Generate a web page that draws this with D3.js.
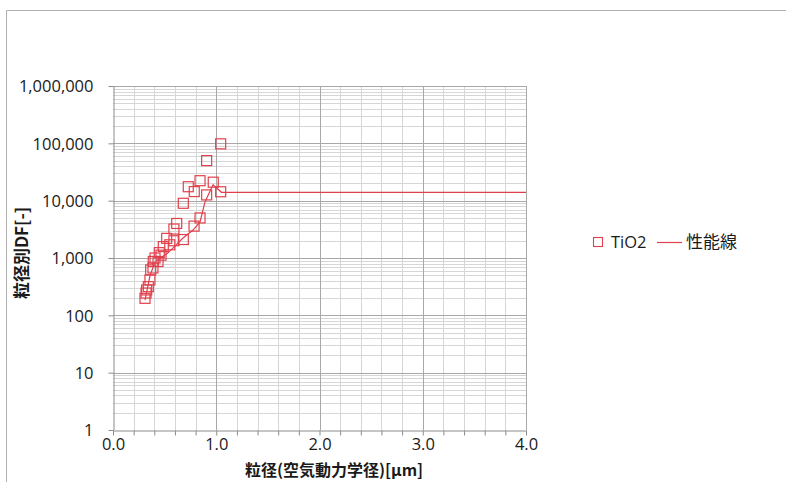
<!DOCTYPE html>
<html><head><meta charset="utf-8">
<script src="https://cdn.jsdelivr.net/npm/d3@7"></script>
<style>
html,body{margin:0;padding:0;background:#fff;}
svg{display:block;}
</style></head>
<body>
<svg id="chart" width="786" height="482"></svg>
<script>
// Data: TiO2 measured points (particle size μm, DF)
const tio2X = [1.043,0.907,0.843,0.729,0.787,0.971,0.907,1.043,0.681,0.843,0.785,0.617,0.59,0.681,0.52,0.59,0.487,0.55,0.448,0.407,0.465,0.39,0.436,0.365,0.387,0.358,0.342,0.326,0.31,0.32];
const tio2Y = [98000,50000,22300,17500,14400,21000,12600,14300,9000,5000,3600,4000,3200,2100,2200,2000,1580,1700,1240,1000,1120,870,870,620,670,415,316,277,198,245];
// Performance line (性能線)
const lineX = [0.31,0.358,0.407,0.533,0.678,0.775,0.843,0.891,0.969,1.05,4.0];
const lineY = [185,490,850,1230,2230,3070,4260,9500,19000,14000,14000];
// Axis ticks
const xTicks = [0,1,2,3,4];
const xTickLabels = ["0.0","1.0","2.0","3.0","4.0"];
const yTicks = [1,10,100,1000,10000,100000,1000000];
const yTickLabels = ["1","10","100","1,000","10,000","100,000","1,000,000"];
const seriesNames = ["TiO2","性能線"];

const svg = d3.select("#chart");
const red = "#e0404c";
const font = "'Open Sans','Noto Sans CJK JP',sans-serif";
const jfont = "'Noto Sans CJK JP','Noto Sans',sans-serif";

// outer frame
svg.append("path").attr("d","M6.5,482 L6.5,10.5 L786,10.5").attr("fill","none").attr("stroke","#b0b0b0").attr("stroke-width",1);

const L=113, R=526, T=86, B=430;
const x = d3.scaleLinear().domain([0,4]).range([L,R]);
const y = d3.scaleLog().domain([1,1000000]).range([B,T]);

const g = svg.append("g");
// minor vertical grid every 0.2
const xMinor = d3.range(0,4.0001,0.2).map(v=>+v.toFixed(1));
g.selectAll(".vx").data(xMinor.filter(v=>Math.abs(v-Math.round(v))>1e-6)).enter().append("line")
 .attr("x1",d=>Math.round(x(d))+0.5).attr("x2",d=>Math.round(x(d))+0.5).attr("y1",T).attr("y2",B)
 .attr("stroke","#d6d6d6");
// minor horizontal grid (log)
const yMinor=[];
for(let e=0;e<6;e++){for(let k=2;k<=9;k++){yMinor.push(k*Math.pow(10,e));}}
g.selectAll(".hy").data(yMinor).enter().append("line")
 .attr("x1",L).attr("x2",R).attr("y1",d=>Math.round(y(d))+0.5).attr("y2",d=>Math.round(y(d))+0.5)
 .attr("stroke","#d6d6d6");
// major grid
g.selectAll(".vX").data(xTicks.slice(1)).enter().append("line")
 .attr("x1",d=>Math.round(x(d))+0.5).attr("x2",d=>Math.round(x(d))+0.5).attr("y1",T).attr("y2",B)
 .attr("stroke","#a8a8a8");
g.selectAll(".hY").data(yTicks.slice(1)).enter().append("line")
 .attr("x1",L).attr("x2",R).attr("y1",d=>Math.round(y(d))+0.5).attr("y2",d=>Math.round(y(d))+0.5)
 .attr("stroke","#a8a8a8");

// axes
const yAxis = d3.axisLeft(y).tickValues(yTicks).tickFormat((d,i)=>yTickLabels[i]).tickSize(5).tickSizeOuter(0);
const ya = svg.append("g").attr("transform",`translate(${L+0.5},0)`).call(yAxis);
ya.select(".domain").attr("stroke","#8c8c8c");
ya.selectAll(".tick line").attr("stroke","#8c8c8c");
ya.selectAll("text").attr("font-family",font).attr("font-size",16.5).attr("fill","#1a1a1a").attr("x",-20).attr("dy","0.35em");

const xAxis = d3.axisBottom(x).tickValues(xMinor).tickFormat(d=>{const i=xTicks.indexOf(d);return i>=0?xTickLabels[i]:"";}).tickSize(5).tickSizeOuter(0);
const xa = svg.append("g").attr("transform",`translate(0,${B+0.5})`).call(xAxis);
xa.select(".domain").attr("stroke","#8c8c8c");
xa.selectAll(".tick line").attr("stroke","#8c8c8c");
xa.selectAll("text").attr("font-family",font).attr("font-size",16.5).attr("fill","#1a1a1a").attr("y",8).attr("dy","0.71em");

// performance line
const lineGen = d3.line().x(d=>x(d[0])).y(d=>y(d[1]));
svg.append("path").datum(lineX.map((v,i)=>[v,lineY[i]])).attr("d",lineGen)
 .attr("fill","none").attr("stroke",red).attr("stroke-width",1.2);

// markers
const s=10;
svg.append("g").selectAll("rect").data(tio2X.map((v,i)=>[v,tio2Y[i]])).enter().append("rect")
 .attr("x",d=>x(d[0])-s/2).attr("y",d=>y(d[1])-s/2).attr("width",s).attr("height",s)
 .attr("fill","none").attr("stroke",red).attr("stroke-width",1.2);

// axis titles
svg.append("text").attr("x",334).attr("y",476).attr("text-anchor","middle")
 .attr("font-family",jfont).attr("font-weight","bold").attr("font-size",16).attr("fill","#1a1a1a")
 .text("粒径(空気動力学径)[μm]");
svg.append("text").attr("transform","translate(28,253) rotate(-90)").attr("text-anchor","middle")
 .attr("font-family",jfont).attr("font-weight","bold").attr("font-size",17).attr("fill","#1a1a1a")
 .text("粒径別DF[-]");

// legend
const lg = svg.append("g");
lg.append("rect").attr("x",593.5).attr("y",237.5).attr("width",9).attr("height",9).attr("fill","none").attr("stroke",red).attr("stroke-width",1.1);
lg.append("text").attr("x",611).attr("y",242).attr("dy","0.35em").attr("font-family",font).attr("font-size",16.5).attr("fill","#1a1a1a").text(seriesNames[0]);
lg.append("line").attr("x1",657).attr("x2",682).attr("y1",242.5).attr("y2",242.5).attr("stroke",red).attr("stroke-width",1.2);
lg.append("text").attr("x",686).attr("y",242).attr("dy","0.35em").attr("font-family",jfont).attr("font-size",17).attr("fill","#1a1a1a").text(seriesNames[1]);
</script>
</body></html>
